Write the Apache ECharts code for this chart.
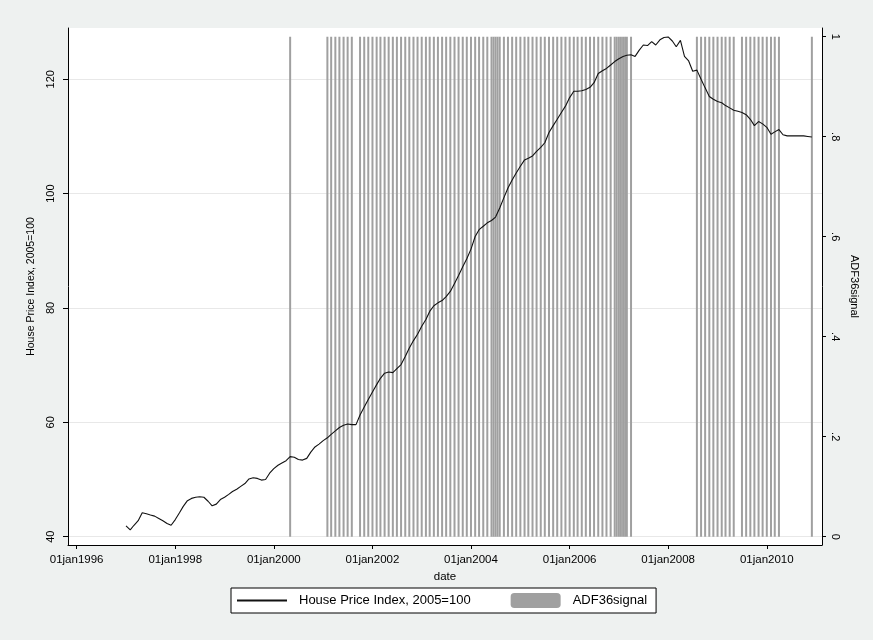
<!DOCTYPE html>
<html>
<head>
<meta charset="utf-8">
<script src="https://cdn.jsdelivr.net/npm/echarts@6/dist/echarts.min.js"></script>
<style>
  html, body { margin: 0; padding: 0; background: #eef1f0; }
  #chart { width: 873px; height: 640px; }
</style>
</head>
<body>
<div id="chart"></div>
<script>
// Monthly house price index, Jan 1997 .. Dec 2010 (2005 = 100)
const firstMonth = '1997-01';
const hpi = [
  // 1997
  41.9, 41.2, 42.0, 42.8, 44.2, 44.0, 43.8, 43.6, 43.2, 42.8, 42.3, 42.0,
  // 1998
  43.0, 44.2, 45.3, 46.3, 46.7, 46.9, 47.0, 46.9, 46.2, 45.4, 45.7, 46.5,
  // 1999
  46.9, 47.4, 47.9, 48.3, 48.8, 49.3, 50.1, 50.3, 50.2, 49.9, 50.0, 51.1,
  // 2000
  51.9, 52.5, 52.9, 53.3, 54.0, 53.9, 53.5, 53.4, 53.7, 54.8, 55.7, 56.2,
  // 2001
  56.8, 57.3, 57.9, 58.5, 59.1, 59.5, 59.7, 59.6, 59.6, 61.3, 62.7, 64.0,
  // 2002
  65.3, 66.6, 67.7, 68.6, 68.8, 68.7, 69.4, 70.1, 71.5, 73.0, 74.3, 75.4,
  // 2003
  76.8, 78.0, 79.4, 80.4, 80.9, 81.3, 82.0, 82.9, 84.3, 85.7, 87.2, 88.6,
  // 2004
  90.3, 92.5, 93.7, 94.3, 94.9, 95.3, 95.9, 97.5, 99.3, 101.0, 102.4, 103.6,
  // 2005
  104.8, 105.9, 106.2, 106.6, 107.4, 108.1, 108.9, 110.7, 111.9, 113.0, 114.2, 115.3,
  // 2006
  116.8, 117.9, 117.9, 118.0, 118.2, 118.6, 119.4, 121.0, 121.5, 121.9, 122.5, 123.1,
  // 2007
  123.6, 124.0, 124.2, 124.3, 124.0, 125.1, 126.0, 125.9, 126.6, 126.0, 126.9, 127.3,
  // 2008
  127.4, 126.7, 125.7, 126.8, 124.0, 123.2, 121.4, 121.6, 120.0, 118.5, 117.0, 116.5,
  // 2009
  116.1, 115.9, 115.4, 115.0, 114.6, 114.4, 114.2, 113.8, 113.0, 111.9, 112.6, 112.2,
  // 2010
  111.6, 110.4, 110.8, 111.2, 110.3, 110.1, 110.1, 110.1, 110.1, 110.1, 110.0, 109.9
];

// ADF36 signal = 1: runs of months (inclusive)
const signalRuns = [
  ['2000-05', '2000-05'],
  ['2001-02', '2001-08'],
  ['2001-10', '2007-04'],
  ['2008-08', '2009-05'],
  ['2009-07', '2010-04'],
  ['2010-12', '2010-12']
];
// additional mid-month signal observations
const signalExtra = ['2004-06-16', '2004-07-16', '2006-12-16', '2007-01-16', '2007-02-16'];

const leftTicks = [40, 60, 80, 100, 120];
const rightTicks = [0, 0.2, 0.4, 0.6, 0.8, 1];
const dateTickYears = [1996, 1998, 2000, 2002, 2004, 2006, 2008, 2010];

const lineName = 'House Price Index, 2005=100';
const barName = 'ADF36signal';
const FONT = 'Liberation Sans, Arial, sans-serif';

function toTime(s) {
  const p = s.split('-').map(Number);
  return Date.UTC(p[0], p[1] - 1, p[2] || 1);
}
function monthAt(start, k) {
  const p = start.split('-').map(Number);
  return Date.UTC(p[0], p[1] - 1 + k, 1);
}

const lineData = hpi.map((v, i) => [monthAt(firstMonth, i), v]);

const signalTimes = [];
signalRuns.forEach(([a, b]) => {
  const end = toTime(b);
  for (let k = 0; ; k++) {
    const t = monthAt(a, k);
    if (t > end) break;
    signalTimes.push(t);
  }
});
signalExtra.forEach(s => signalTimes.push(toTime(s)));
signalTimes.sort((a, b) => a - b);
const barData = signalTimes.map(t => [t, 1]);

const dateTicks = dateTickYears.map(y => Date.UTC(y, 0, 1));

const chart = echarts.init(document.getElementById('chart'), null, { renderer: 'canvas' });
chart.setOption({
  backgroundColor: '#eef1f0',
  animation: false,
  textStyle: { fontFamily: FONT },
  grid: {
    left: 68, right: 51, top: 28, bottom: 95,
    show: true, backgroundColor: '#ffffff', borderWidth: 0
  },
  legend: {
    data: [
      // plain line key, no marker
      { name: lineName, itemStyle: { color: 'rgba(0,0,0,0)', borderColor: 'rgba(0,0,0,0)', borderWidth: 0 } },
      { name: barName }
    ],
    left: 231, top: 588,
    orient: 'horizontal',
    padding: [5, 9, 5, 5],
    itemWidth: 50, itemHeight: 15, itemGap: 40,
    backgroundColor: '#ffffff',
    borderColor: '#000000', borderWidth: 1,
    textStyle: { fontFamily: FONT, fontSize: 13, color: '#000', padding: [0, 0, 0, 7] }
  },
  xAxis: {
    // dates are handled as UTC milliseconds on a linear axis
    type: 'value',
    min: Date.UTC(1995, 9, 29),
    max: Date.UTC(2011, 1, 14),
    name: 'date',
    nameLocation: 'middle',
    nameGap: 20,
    nameTextStyle: { fontFamily: FONT, fontSize: 11.5, color: '#000' },
    axisLine: { show: true, onZero: false, lineStyle: { color: '#000', width: 1 } },
    axisTick: { show: true, length: 4, customValues: dateTicks, lineStyle: { color: '#000' } },
    axisLabel: {
      customValues: dateTicks,
      margin: 9,
      fontFamily: FONT, fontSize: 11.5, color: '#000',
      formatter: v => '01jan' + new Date(v).getUTCFullYear()
    },
    splitLine: { show: false }
  },
  yAxis: [
    {
      type: 'value',
      position: 'left',
      min: 38.55, max: 128.97,
      name: lineName,
      nameLocation: 'middle',
      nameGap: 24,
      nameRotate: 90,
      nameTextStyle: { fontFamily: FONT, fontSize: 10.5, color: '#000' },
      axisLine: { show: true, lineStyle: { color: '#000', width: 1 } },
      axisTick: { show: true, length: 5, customValues: leftTicks, lineStyle: { color: '#000' } },
      axisLabel: {
        customValues: leftTicks, rotate: 90, margin: 12,
        fontFamily: FONT, fontSize: 11, color: '#000'
      },
      splitLine: { show: true, lineStyle: { color: '#e8e8e8', width: 1 } }
    },
    {
      type: 'value',
      position: 'right',
      min: -0.0166, max: 1.0174,
      name: barName,
      nameLocation: 'middle',
      nameGap: 17,
      nameRotate: -90,
      nameTextStyle: { fontFamily: FONT, fontSize: 11, color: '#000' },
      axisLine: { show: true, lineStyle: { color: '#000', width: 1 } },
      axisTick: { show: true, length: 4, customValues: rightTicks, lineStyle: { color: '#000' } },
      axisLabel: {
        customValues: rightTicks, rotate: -90, margin: 8,
        fontFamily: FONT, fontSize: 11, color: '#000',
        formatter: v => (v === 0 ? '0' : v === 1 ? '1' : String(+v.toFixed(1)).replace(/^0\./, '.'))
      },
      splitLine: { show: false }
    }
  ],
  series: [
    {
      name: lineName,
      type: 'line',
      yAxisIndex: 0,
      data: lineData,
      symbol: 'none',
      z: 3,
      lineStyle: { color: '#111111', width: 1.1 },
      itemStyle: { color: '#111111' }
    },
    {
      name: barName,
      type: 'bar',
      yAxisIndex: 1,
      data: barData,
      barWidth: 2,
      z: 2,
      itemStyle: { color: '#a0a0a0' }
    }
  ]
});
</script>
</body>
</html>
